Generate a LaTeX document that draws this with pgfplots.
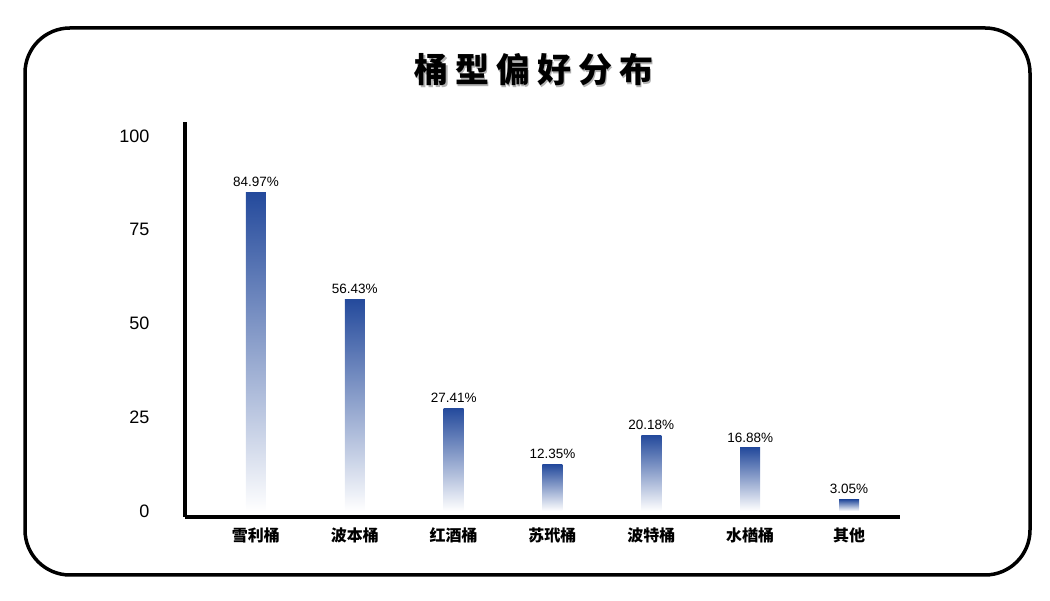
\documentclass[border=0pt]{standalone}
\usepackage{pgfplots}
\pgfplotsset{compat=1.18}
\usepackage{fontspec}
\setmainfont{Liberation Sans}
\newfontfamily\cjk{Noto Sans CJK SC}
\definecolor{bartop}{RGB}{36,74,156}
\definecolor{barmid}{RGB}{146,152,206}
\pgfplotsset{barsty/.style={ybar, bar width=20pt, bar shift=0pt, draw=none, top color=bartop, middle color=barmid, bottom color=white}}
\begin{document}
\begin{tikzpicture}
\useasboundingbox (0pt,0pt) rectangle (1050pt,601pt);
\draw[line width=3.5pt, rounded corners=45pt] (25pt,26pt) rectangle (1030pt,573pt);
\node[gray!60] at (535.5pt,529.5pt) {\cjk\bfseries\fontsize{34}{34}\selectfont 桶\hspace{7pt}型\hspace{7pt}偏\hspace{7pt}好\hspace{7pt}分\hspace{7pt}布};
\node at (534pt,531pt) {\cjk\bfseries\fontsize{34}{34}\selectfont 桶\hspace{7pt}型\hspace{7pt}偏\hspace{7pt}好\hspace{7pt}分\hspace{7pt}布};
\begin{axis}[
  at={(185pt,84pt)}, anchor=south west,
  scale only axis, width=715pt, height=395pt,
  xmin=-0.718, xmax=6.516, ymin=-1.6, ymax=103.7,
  axis x line=bottom, axis y line=left,
  axis line style={-, line width=3.5pt},
  major tick length=0pt,
  xtick={0,...,6},
  xticklabels={雪利桶,波本桶,红酒桶,苏玳桶,波特桶,水楢桶,其他},
  xticklabel style={font=\cjk\bfseries\fontsize{16}{16}\selectfont, yshift=-7pt},
  ytick={0,25,50,75,100},
  yticklabel style={font=\fontsize{18}{18}\selectfont, xshift=-32pt},
  /pgf/number format/assume math mode=true,
  clip=false,
  nodes near coords,
  point meta=explicit symbolic,
  every node near coord/.append style={font=\fontsize{13.5}{14}\selectfont, black, yshift=2pt},
]
\addplot[barsty] coordinates {(0,84.97) [84.97\%]};
\addplot[barsty] coordinates {(1,56.43) [56.43\%]};
\addplot[barsty] coordinates {(2,27.41) [27.41\%]};
\addplot[barsty] coordinates {(3,12.35) [12.35\%]};
\addplot[barsty] coordinates {(4,20.18) [20.18\%]};
\addplot[barsty] coordinates {(5,16.88) [16.88\%]};
\addplot[barsty] coordinates {(6,3.05) [3.05\%]};
\end{axis}
\end{tikzpicture}
\end{document}
